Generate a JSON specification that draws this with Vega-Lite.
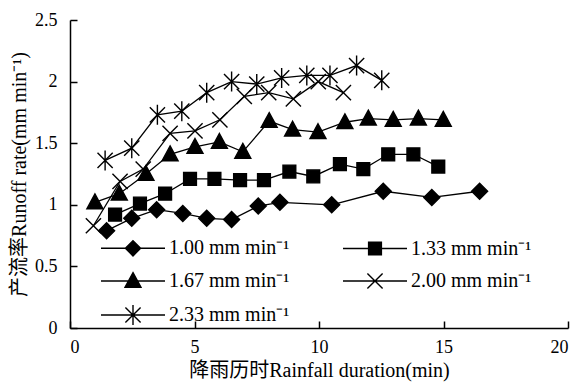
{
  "$schema": "https://vega.github.io/schema/vega-lite/v6.json",
  "width": 498,
  "height": 308,
  "autosize": "none",
  "padding": {"left": 70, "top": 20, "right": 8, "bottom": 54},
  "background": "white",
  "config": {
    "view": {"stroke": null},
    "font": "Liberation Serif",
    "axis": {
      "domainColor": "black", "domainWidth": 1.5, "tickColor": "black", "tickWidth": 1.5,
      "tickSize": -7, "grid": false, "labelFont": "Liberation Serif", "labelFontSize": 18,
      "labelColor": "black", "titleFont": "Liberation Serif, Noto Sans CJK SC", "titleFontSize": 20,
      "titleFontWeight": "normal", "titleColor": "black"
    }
  },
  "data": {"values": [
    {"series": "1.00 mm min⁻¹", "t": 1.47, "q": 0.79},
    {"series": "1.00 mm min⁻¹", "t": 2.48, "q": 0.89},
    {"series": "1.00 mm min⁻¹", "t": 3.48, "q": 0.96},
    {"series": "1.00 mm min⁻¹", "t": 4.53, "q": 0.93},
    {"series": "1.00 mm min⁻¹", "t": 5.49, "q": 0.89},
    {"series": "1.00 mm min⁻¹", "t": 6.49, "q": 0.88},
    {"series": "1.00 mm min⁻¹", "t": 7.56, "q": 0.99},
    {"series": "1.00 mm min⁻¹", "t": 8.43, "q": 1.02},
    {"series": "1.00 mm min⁻¹", "t": 10.51, "q": 1.00},
    {"series": "1.00 mm min⁻¹", "t": 12.58, "q": 1.11},
    {"series": "1.00 mm min⁻¹", "t": 14.53, "q": 1.06},
    {"series": "1.00 mm min⁻¹", "t": 16.45, "q": 1.11},
    {"series": "1.33 mm min⁻¹", "t": 1.81, "q": 0.92},
    {"series": "1.33 mm min⁻¹", "t": 2.81, "q": 1.01},
    {"series": "1.33 mm min⁻¹", "t": 3.82, "q": 1.09},
    {"series": "1.33 mm min⁻¹", "t": 4.82, "q": 1.21},
    {"series": "1.33 mm min⁻¹", "t": 5.80, "q": 1.21},
    {"series": "1.33 mm min⁻¹", "t": 6.83, "q": 1.20},
    {"series": "1.33 mm min⁻¹", "t": 7.79, "q": 1.20},
    {"series": "1.33 mm min⁻¹", "t": 8.81, "q": 1.27},
    {"series": "1.33 mm min⁻¹", "t": 9.77, "q": 1.23},
    {"series": "1.33 mm min⁻¹", "t": 10.84, "q": 1.33},
    {"series": "1.33 mm min⁻¹", "t": 11.78, "q": 1.29},
    {"series": "1.33 mm min⁻¹", "t": 12.78, "q": 1.41},
    {"series": "1.33 mm min⁻¹", "t": 13.79, "q": 1.41},
    {"series": "1.33 mm min⁻¹", "t": 14.79, "q": 1.31},
    {"series": "1.67 mm min⁻¹", "t": 1.00, "q": 1.02},
    {"series": "1.67 mm min⁻¹", "t": 1.98, "q": 1.09},
    {"series": "1.67 mm min⁻¹", "t": 3.05, "q": 1.25},
    {"series": "1.67 mm min⁻¹", "t": 4.02, "q": 1.41},
    {"series": "1.67 mm min⁻¹", "t": 5.02, "q": 1.47},
    {"series": "1.67 mm min⁻¹", "t": 6.00, "q": 1.51},
    {"series": "1.67 mm min⁻¹", "t": 6.94, "q": 1.43},
    {"series": "1.67 mm min⁻¹", "t": 8.00, "q": 1.68},
    {"series": "1.67 mm min⁻¹", "t": 8.94, "q": 1.61},
    {"series": "1.67 mm min⁻¹", "t": 9.96, "q": 1.59},
    {"series": "1.67 mm min⁻¹", "t": 11.04, "q": 1.67},
    {"series": "1.67 mm min⁻¹", "t": 11.98, "q": 1.70},
    {"series": "1.67 mm min⁻¹", "t": 12.98, "q": 1.69},
    {"series": "1.67 mm min⁻¹", "t": 13.99, "q": 1.70},
    {"series": "1.67 mm min⁻¹", "t": 14.99, "q": 1.69},
    {"series": "2.00 mm min⁻¹", "t": 0.94, "q": 0.83},
    {"series": "2.00 mm min⁻¹", "t": 2.01, "q": 1.19},
    {"series": "2.00 mm min⁻¹", "t": 2.94, "q": 1.29},
    {"series": "2.00 mm min⁻¹", "t": 4.02, "q": 1.58},
    {"series": "2.00 mm min⁻¹", "t": 5.02, "q": 1.60},
    {"series": "2.00 mm min⁻¹", "t": 6.02, "q": 1.69},
    {"series": "2.00 mm min⁻¹", "t": 7.00, "q": 1.88},
    {"series": "2.00 mm min⁻¹", "t": 7.98, "q": 1.91},
    {"series": "2.00 mm min⁻¹", "t": 8.97, "q": 1.86},
    {"series": "2.00 mm min⁻¹", "t": 9.97, "q": 2.00},
    {"series": "2.00 mm min⁻¹", "t": 10.98, "q": 1.91},
    {"series": "2.33 mm min⁻¹", "t": 1.41, "q": 1.36},
    {"series": "2.33 mm min⁻¹", "t": 2.48, "q": 1.46},
    {"series": "2.33 mm min⁻¹", "t": 3.51, "q": 1.73},
    {"series": "2.33 mm min⁻¹", "t": 4.49, "q": 1.76},
    {"series": "2.33 mm min⁻¹", "t": 5.49, "q": 1.91},
    {"series": "2.33 mm min⁻¹", "t": 6.49, "q": 2.00},
    {"series": "2.33 mm min⁻¹", "t": 7.50, "q": 1.98},
    {"series": "2.33 mm min⁻¹", "t": 8.50, "q": 2.03},
    {"series": "2.33 mm min⁻¹", "t": 9.51, "q": 2.05},
    {"series": "2.33 mm min⁻¹", "t": 10.44, "q": 2.05},
    {"series": "2.33 mm min⁻¹", "t": 11.51, "q": 2.13},
    {"series": "2.33 mm min⁻¹", "t": 12.52, "q": 2.01}
  ]},
  "encoding": {
    "x": {"field": "t", "type": "quantitative",
      "scale": {"domain": [0, 20], "nice": false, "zero": false},
      "axis": {"values": [0, 5, 10, 15, 20], "title": "降雨历时Rainfall duration(min)", "labelPadding": 17, "titlePadding": 4}},
    "y": {"field": "q", "type": "quantitative",
      "scale": {"domain": [0, 2.5], "nice": false},
      "axis": {"values": [0, 0.5, 1, 1.5, 2, 2.5], "format": "~g", "title": "产流率Runoff rate(mm min⁻¹)", "labelPadding": 20, "titlePadding": 5}}
  },
  "layer": [
    {
      "mark": {"type": "line", "color": "black", "strokeWidth": 1.3},
      "encoding": {"detail": {"field": "series"}}
    },
    {
      "mark": {"type": "point", "filled": true, "fill": "black", "stroke": "black", "strokeWidth": 1.4, "opacity": 1, "size": 256},
      "encoding": {
        "shape": {"field": "series", "type": "nominal",
          "scale": {"range": [
            "M0,-1L1,0L0,1L-1,0Z",
            "M-0.8,-0.8H0.8V0.8H-0.8Z",
            "M0,-1.05L1,0.8H-1Z",
            "M-0.95,-0.95L0.95,0.95M-0.95,0.95L0.95,-0.95",
            "M-0.95,-0.95L0.95,0.95M-0.95,0.95L0.95,-0.95M0,-1.25V1.25"
          ]},
          "legend": null}
      }
    },
    {
      "mark": {"type": "point", "filled": true, "fill": "black", "stroke": "black", "strokeWidth": 1.4, "opacity": 0, "size": 256},
      "encoding": {
        "shape": {"field": "series", "type": "nominal",
          "scale": {"range": [
            "M-4,0H4M0,-0.95L0.95,0L0,0.95L-0.95,0Z",
            "M-4,0H4M-0.8,-0.8H0.8V0.8H-0.8Z",
            "M-4,0H4M0,-1.05L1,0.8H-1Z",
            "M-4,0H4M-0.95,-0.95L0.95,0.95M-0.95,0.95L0.95,-0.95",
            "M-4,0H4M-0.95,-0.95L0.95,0.95M-0.95,0.95L0.95,-0.95M0,-1.25V1.25"
          ]},
          "legend": {
            "title": null, "orient": "none", "legendX": 53, "legendY": 218,
            "direction": "horizontal",
            "columns": 2, "columnPadding": 50, "rowPadding": 10,
            "labelFont": "Liberation Serif", "labelFontSize": 20, "labelColor": "black",
            "labelOffset": 26, "symbolSize": 256, "symbolStrokeWidth": 1.4,
            "encode": {"symbols": {"update": {"opacity": {"value": 1}, "fill": {"value": "black"}, "stroke": {"value": "black"}, "strokeWidth": {"value": 1.4}}}}
          }}
      }
    }
  ],
  "resolve": {"scale": {"shape": "independent"}}
}
